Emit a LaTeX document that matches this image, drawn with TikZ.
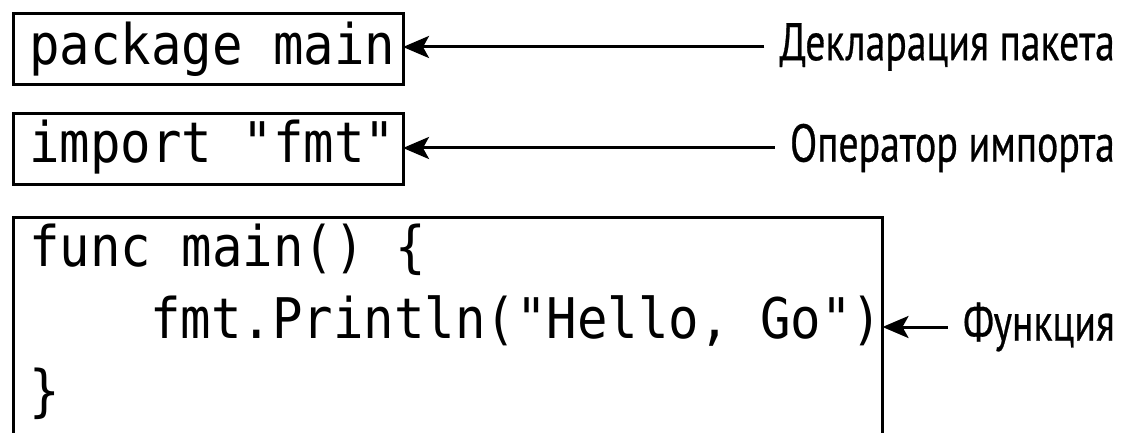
\documentclass[tikz,border=0pt]{standalone}
\usepackage{fontspec}
\usetikzlibrary{arrows.meta}
\newfontfamily\codefont[FakeStretch=0.905]{DejaVu Sans Mono}
\newfontfamily\notefont[FakeStretch=0.75,FakeBold=0.5]{PT Sans}

\begin{document}
\begin{tikzpicture}[x=1pt,y=-1pt,
  codebox/.style={draw, line width=3pt, anchor=north west, inner sep=0pt},
  code/.style={anchor=base west, inner sep=0pt,
    font=\codefont\fontsize{56}{66}\selectfont},
  note/.style={anchor=east, inner sep=0pt,
    font=\notefont\fontsize{53}{60}\selectfont},
  pointer/.style={line width=3pt, shorten >=-1.5pt,
    -{Stealth[length=26pt,width=22pt,inset=6pt]}}]
\useasboundingbox (0,0) rectangle (1127,433);

% code boxes
\node[codebox, minimum width=390pt, minimum height=71pt] (pkg) at (11.5,12.5) {};
\node[codebox, minimum width=390pt, minimum height=70pt] (imp) at (11.5,112.5) {};
\node[codebox, minimum width=869.5pt, minimum height=219.5pt] (fn) at (11.5,215.5) {};

% code lines
\node[code] (c1) at (29,65) {package main};
\node[code] (c2) at (29,163) {import "fmt"};
\node[code] (c3) at (29,266) {func main() \{};
\node[code] (c4) at (150,338) {fmt.Println("Hello, Go")};
\node[code] (c5) at (29,410) {\}};

% annotations
\node[note] (n1) at (1115,47) {Декларация пакета};
\node[note] (n2) at (1115,148) {Оператор импорта};
\node[note] (n3) at (1115,327) {Функция};

\draw[pointer] ([xshift=-15pt]n1.west) -- (n1.west -| pkg.east);
\draw[pointer] ([xshift=-15pt]n2.west) -- (n2.west -| imp.east);
\draw[pointer] ([xshift=-15pt]n3.west) -- (n3.west -| fn.east);
\end{tikzpicture}
\end{document}
